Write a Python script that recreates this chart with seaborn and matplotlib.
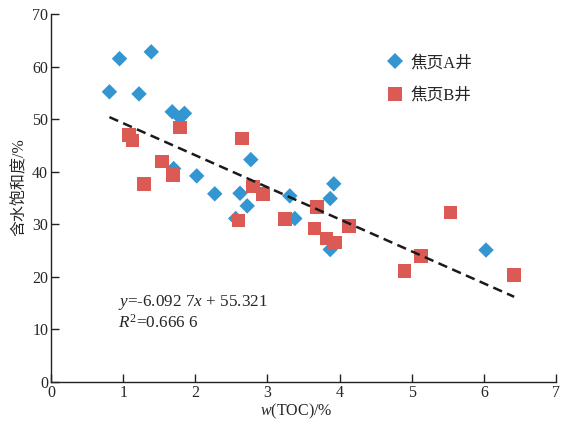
import matplotlib
matplotlib.use("Agg")
import matplotlib.pyplot as plt
import seaborn as sns
import numpy as np
import pandas as pd

# Data
a_toc = [0.81, 0.95, 1.39, 1.22, 1.68, 1.85, 1.79, 1.70, 2.02, 2.27,
         2.62, 2.77, 2.72, 2.56, 3.31, 3.38, 3.92, 3.87, 3.87, 6.03]
a_sw = [55.2, 61.5, 62.8, 54.8, 51.4, 51.1, 50.3, 40.6, 39.2, 35.8,
        35.9, 42.3, 33.5, 31.1, 35.4, 31.1, 37.7, 34.9, 25.2, 25.1]
b_toc = [1.08, 1.13, 1.79, 2.65, 1.54, 1.69, 1.29, 2.80, 2.94, 2.60,
         3.24, 3.69, 3.65, 3.82, 3.94, 4.13, 5.54, 5.13, 4.90, 6.42]
b_sw = [47.0, 45.9, 48.4, 46.3, 41.9, 39.4, 37.7, 37.2, 35.8, 30.7,
        31.0, 33.3, 29.2, 27.3, 26.5, 29.7, 32.2, 24.0, 21.1, 20.4]
wells = ["焦页A井", "焦页B井"]
slope, intercept = -6.0927, 55.321
eq_text = r"$y$=-6.092 7$x$ + 55.321"
r2_text = r"$R^2$=0.666 6"
x_ticks = [0, 1, 2, 3, 4, 5, 6, 7]
y_ticks = [0, 10, 20, 30, 40, 50, 60, 70]

df = pd.DataFrame({
    "toc": a_toc + b_toc,
    "sw": a_sw + b_sw,
    "well": [wells[0]] * len(a_toc) + [wells[1]] * len(b_toc),
})

sns.set_theme(style="white")
plt.rcParams["font.family"] = ["Liberation Serif", "Noto Sans CJK SC"]
plt.rcParams["mathtext.fontset"] = "custom"
plt.rcParams["mathtext.rm"] = "Liberation Serif"
plt.rcParams["mathtext.it"] = "Liberation Serif:italic"

fig = plt.figure(figsize=(5.71, 4.24), dpi=100)
ax = fig.add_axes([51 / 571, 1 - 382 / 424, 505 / 571, 368 / 424])

blue = "#3396D1"
red = "#DB5A53"

# regression line
xl = np.array([df["toc"].min(), df["toc"].max()])
line_df = pd.DataFrame({"x": xl, "y": slope * xl + intercept})
sns.lineplot(data=line_df, x="x", y="y", ax=ax, color="#1a1a1a",
             linewidth=1.8, zorder=3)
ax.lines[-1].set_dashes((3.8, 2.2))

sns.scatterplot(data=df, x="toc", y="sw", hue="well", style="well",
                size="well",
                palette={wells[0]: blue, wells[1]: red},
                markers={wells[0]: "D", wells[1]: "s"},
                sizes={wells[0]: 62, wells[1]: 95},
                linewidth=0, ax=ax, zorder=2, legend=True)

handles, labels = ax.get_legend_handles_labels()
ax.legend(handles=handles, labels=labels, frameon=False, loc="upper left",
          bbox_to_anchor=(0.632, 0.929), fontsize=12, labelspacing=1.0,
          handlelength=1.2, handletextpad=0.3, markerscale=1.0)

ax.set_xlim(0, 7)
ax.set_ylim(0, 70)
ax.set_xticks(x_ticks)
ax.set_yticks(y_ticks)
ax.set_xlabel(r"$w$(TOC)/%", fontsize=11.5)
ax.set_ylabel("含水饱和度/%", fontsize=11.5)
ax.xaxis.set_label_coords((296.5 - 51) / 505, -0.055)
ax.yaxis.set_label_coords(-0.0455, 0.53)

for s in ["top", "right"]:
    ax.spines[s].set_visible(False)
for s in ["left", "bottom"]:
    ax.spines[s].set_color("#222222")
    ax.spines[s].set_linewidth(1.0)

ax.tick_params(axis="y", direction="in", length=5.5, width=1, color="#222222",
               labelsize=11.5, pad=2, left=True)
ax.tick_params(axis="x", direction="in", length=5.5, width=1, color="#222222",
               labelsize=11.5, pad=2.5, bottom=True)

ax.text(0.133, 0.217, eq_text, transform=ax.transAxes, fontsize=12.3,
        va="center", ha="left")
ax.text(0.133, 0.160, r2_text, transform=ax.transAxes, fontsize=12.3,
        va="center", ha="left")

fig.savefig("out.png", dpi=100)
